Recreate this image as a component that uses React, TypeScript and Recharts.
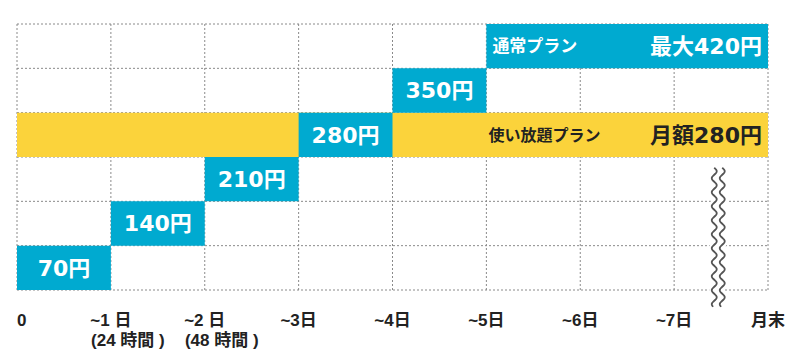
import {
  ComposedChart,
  XAxis,
  YAxis,
  CartesianGrid,
  ReferenceArea,
  ReferenceLine,
} from 'recharts'

const dayTicks = [0, 1, 2, 3, 4, 5, 6, 7, 8]
const dayLabels = ['0', '~1 日', '~2 日', '~3日', '~4日', '~5日', '~6日', '~7日', '月末']
const daySubLabels = ['', '(24 時間 )', '(48 時間 )', '', '', '', '', '', '']
const priceTicks = [0, 70, 140, 210, 280, 350, 420]

// 通常プラン: price steps per day
const stepFrom = [0, 1, 2, 3, 4, 5]
const stepTo = [1, 2, 3, 4, 5, 8]
const stepLow = [0, 70, 140, 210, 280, 350]
const stepHigh = [70, 140, 210, 280, 350, 420]
const stepLabels = ['70円', '140円', '210円', '280円', '350円', '最大420円']
const stepNames = ['', '', '', '', '', '通常プラン']

// 使い放題プラン: flat monthly price
const flatLow = 210
const flatHigh = 280
const flatCaptionFrom = 5
const flatName = '使い放題プラン'
const flatLabel = '月額280円'

// axis break between ~7日 and 月末
const breakAt = 7.47
const breakTop = 193
const breakBottom = -28

const TICK_FONT = "'Liberation Sans', 'Noto Sans CJK JP', sans-serif"
const VALUE_FONT = "'DejaVu Sans', 'Noto Sans CJK JP', sans-serif"
const NAME_FONT = "'Noto Sans CJK JP', sans-serif"
const BLUE = '#00AAD0'
const YELLOW = '#FBD33B'

const chartData = dayTicks.map((d) => ({ day: d }))

function DayTick({ x, y, payload }: any) {
  const i = dayTicks.indexOf(payload.value)
  const sub = daySubLabels[i]
  return (
    <g fontFamily={TICK_FONT} fontWeight="bold" fontSize={17} fill="#222">
      <text x={x} y={y + 28} textAnchor={i === 0 ? 'start' : 'middle'}>
        {dayLabels[i]}
      </text>
      {sub && (
        <text x={x + 17} y={y + 48} textAnchor="middle">
          {sub}
        </text>
      )}
    </g>
  )
}

function AreaLabel({ viewBox, name, value, color, nameSize, valueSize, pad }: any) {
  const { x, y, width, height } = viewBox
  const cy = y + height / 2
  if (!name) {
    return (
      <text
        x={x + width / 2}
        y={cy}
        dy="0.36em"
        textAnchor="middle"
        fontFamily={VALUE_FONT}
        fontWeight="bold"
        fontSize={valueSize}
        fill={color}
      >
        {value}
      </text>
    )
  }
  return (
    <g fontWeight="bold" fill={color}>
      <text x={x + pad} y={cy} dy="0.36em" fontSize={nameSize} fontFamily={NAME_FONT}>
        {name}
      </text>
      <text
        x={x + width - 6}
        y={cy}
        dy="0.36em"
        textAnchor="end"
        fontSize={valueSize}
        fontFamily={VALUE_FONT}
      >
        {value}
      </text>
    </g>
  )
}

function BreakMark({ x1, y1, y2 }: any) {
  const top = Math.min(y1, y2)
  const bottom = Math.max(y1, y2)
  const wave = (off: number) => {
    let d = ''
    for (let yy = top; yy <= bottom; yy += 1) {
      const xx = x1 + off + 2.5 * Math.sin(((yy - top) / 14) * 2 * Math.PI)
      d += (d ? 'L' : 'M') + xx.toFixed(2) + ',' + yy.toFixed(2)
    }
    return d
  }
  return (
    <g fill="none">
      <path d={wave(0)} stroke="#fff" strokeWidth={13} />
      <path d={wave(-4)} stroke="#555" strokeWidth={1.8} />
      <path d={wave(4)} stroke="#555" strokeWidth={1.8} />
    </g>
  )
}

export default function App() {
  return (
    <div style={{ width: 800, height: 363 }}>
      <style>{`body{margin:0}`}</style>
      <ComposedChart
        width={800}
        height={363}
        data={chartData}
        margin={{ top: 24, right: 32, bottom: 0, left: 17 }}
      >
        <CartesianGrid stroke="#8a8a8a" strokeDasharray="2 2" />
        <XAxis
          dataKey="day"
          type="number"
          domain={[0, 8]}
          allowDataOverflow
          ticks={dayTicks}
          interval={0}
          height={73}
          axisLine={false}
          tickLine={false}
          tick={<DayTick />}
        />
        <YAxis type="number" domain={[0, 420]} allowDataOverflow ticks={priceTicks} hide />
        <ReferenceArea y1={flatLow} y2={flatHigh} fill={YELLOW} fillOpacity={1} stroke="none" />
        {stepFrom.map((from, i) => (
          <ReferenceArea
            key={`step-${i}`}
            x1={from}
            x2={stepTo[i]}
            y1={stepLow[i]}
            y2={stepHigh[i]}
            fill={BLUE}
            fillOpacity={1}
            stroke="none"
            label={
              <AreaLabel
                name={stepNames[i]}
                value={stepLabels[i]}
                color="#fff"
                nameSize={17}
                valueSize={22}
                pad={6}
              />
            }
          />
        ))}
        <ReferenceArea
          x1={flatCaptionFrom}
          x2={8}
          y1={flatLow}
          y2={flatHigh}
          fillOpacity={0}
          stroke="none"
          label={
            <AreaLabel
              name={flatName}
              value={flatLabel}
              color="#222"
              nameSize={16}
              valueSize={22}
              pad={2}
            />
          }
        />
        <ReferenceLine
          segment={[
            { x: breakAt, y: breakTop },
            { x: breakAt, y: breakBottom },
          ]}
          ifOverflow="visible"
          shape={<BreakMark />}
        />
      </ComposedChart>
    </div>
  )
}
